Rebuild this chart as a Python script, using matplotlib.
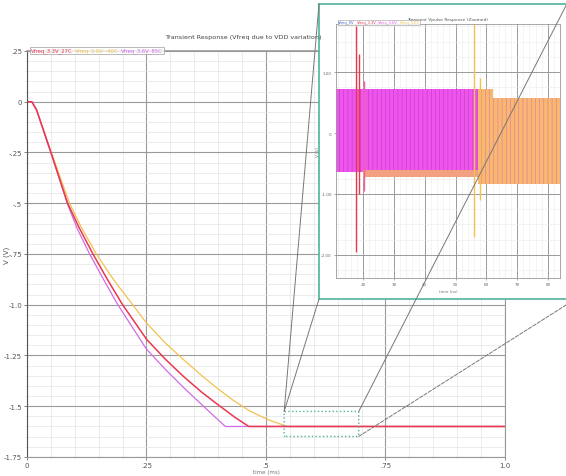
import numpy as np
import matplotlib
matplotlib.use("Agg")
import matplotlib.pyplot as plt
from matplotlib.patches import FancyBboxPatch, ConnectionPatch
from matplotlib.ticker import MultipleLocator

# main transient curves (time, V)
red_t = [0, 0.01, 0.02, 0.05, 0.085, 0.11, 0.138, 0.168, 0.2, 0.25, 0.29, 0.328, 0.365, 0.398, 0.435, 0.464, 1.0]
red_v = [0, 0, -0.04, -0.25, -0.5, -0.625, -0.75, -0.875, -1.0, -1.17, -1.27, -1.355, -1.43, -1.49, -1.555, -1.6, -1.6]
purple_t = [0, 0.01, 0.02, 0.05, 0.084, 0.105, 0.131, 0.16, 0.19, 0.25, 0.29, 0.328, 0.384, 0.415, 1.0]
purple_v = [0, 0, -0.04, -0.25, -0.5, -0.625, -0.75, -0.875, -1.0, -1.219, -1.32, -1.409, -1.533, -1.6, -1.6]
yellow_t = [0, 0.01, 0.02, 0.051, 0.089, 0.115, 0.145, 0.182, 0.221, 0.25, 0.29, 0.328, 0.365, 0.398, 0.432, 0.467, 0.505, 0.544, 1.0]
yellow_v = [0, 0, -0.04, -0.25, -0.5, -0.625, -0.75, -0.88, -1.0, -1.09, -1.19, -1.272, -1.348, -1.412, -1.472, -1.525, -1.567, -1.6, -1.6]
main_labels = ["Vfreq_3.3V_27C", "Vfreq_3.0V_-40C", "Vfreq_3.6V_85C"]

y_ticks = [0.25, 0, -0.25, -0.5, -0.75, -1.0, -1.25, -1.5, -1.75]
y_ticklabels = [".25", "0", "-.25", "-.5", "-.75", "-1.0", "-1.25", "-1.5", "-1.75"]
x_ticks = [0, 0.25, 0.5, 0.75, 1.0]
x_ticklabels = ["0", ".25", ".5", ".75", "1.0"]

# zoom window on main plot
zoom_t = [0.538, 0.694]
zoom_v = [-1.649, -1.526]

# inset (zoomed) signal envelopes
inset_labels = ["Vfreq_0V", "Vfreq_3.3V", "Vfreq_3.6V", "Vfreq_3.0V"]
mag_t = [11.2, 57.3]
mag_hi = [0.72, 0.72]
mag_lo = [-0.64, -0.64]
redstrip_t = [20.0, 57.3]
redstrip_hi = [-0.6, -0.6]
redstrip_lo = [-0.72, -0.72]
orng_t = [57.3, 62.0, 62.0, 83.9]
orng_hi = [0.72, 0.72, 0.57, 0.57]
orng_lo = [-0.84, -0.84, -0.84, -0.84]
spike_t = [17.6, 18.6, 20.2, 56.0, 57.9]
spike_hi = [1.75, 1.3, 0.85, 1.79, 0.9]
spike_lo = [-1.95, -1.0, -0.95, -1.7, -1.1]
spike_col = ["#e8384f", "#e8384f", "#f0609a", "#f2c14e", "#f2c14e"]
inset_xticks = [20, 30, 40, 50, 60, 70, 80]
inset_yticks = [1, 0, -1, -2]
inset_yticklabels = ["1.00", "0", "-1.00", "-2.00"]

RED = "#e8384f"
YEL = "#f2c14e"
PUR = "#d26be6"
TEAL = "#4fb39a"

plt.rcParams["hatch.linewidth"] = 0.4

fig = plt.figure(figsize=(5.66, 4.77), dpi=100)
fig.patch.set_facecolor("white")

ax = fig.add_axes([0.0477, 0.040, 0.8445, 0.851])
ax.plot(yellow_t, yellow_v, color=YEL, lw=0.9, label=main_labels[1])
ax.plot(purple_t, purple_v, color=PUR, lw=0.9, label=main_labels[2])
ax.plot(red_t, red_v, color=RED, lw=1.1, label=main_labels[0])
ax.set_xlim(0, 1.0)
ax.set_ylim(-1.75, 0.25)
ax.set_xticks(x_ticks)
ax.set_xticklabels(x_ticklabels)
ax.set_yticks(y_ticks)
ax.set_yticklabels(y_ticklabels)
ax.xaxis.set_minor_locator(MultipleLocator(0.05))
ax.yaxis.set_minor_locator(MultipleLocator(0.05))
ax.grid(which="major", color="#9a9a9a", lw=0.8)
ax.grid(which="minor", color="#e4e4e4", lw=0.5)
ax.set_axisbelow(True)
ax.tick_params(labelsize=5, colors="#555555", length=2, width=0.5, pad=1.5)
ax.tick_params(which="minor", length=1, width=0.4, colors="#777777")
for s in ["top", "right", "bottom"]:
    ax.spines[s].set_color("#999999")
ax.spines["left"].set_color("#555555")
ax.spines["top"].set_linewidth(1.2)
ax.set_ylabel("V (V)", fontsize=5, color="#555555")
ax.yaxis.set_label_coords(-0.036, 0.5)
ax.set_xlabel("time (ms)", fontsize=4, color="#777777", labelpad=1)
fig.text(322 / 566, 1 - 37 / 477, "Transient Response (Vfreq due to VDD variation)",
         fontsize=4.6, color="#444444", ha="right", va="center")

h, l = ax.get_legend_handles_labels()
order = [2, 0, 1]
leg = ax.legend([h[i] for i in order], [l[i] for i in order], loc="lower left",
                bbox_to_anchor=(0.0, 0.985), ncol=3, fontsize=3.8, handlelength=0,
                handletextpad=0, columnspacing=0.5, borderpad=0.2,
                frameon=True, fancybox=False, edgecolor="#999999",
                labelcolor=[RED, YEL, PUR])
leg.get_frame().set_linewidth(0.6)

box = FancyBboxPatch((zoom_t[0], zoom_v[0]), zoom_t[1] - zoom_t[0], zoom_v[1] - zoom_v[0],
                     boxstyle="round,pad=0,rounding_size=0.004", fill=False,
                     edgecolor=TEAL, lw=1.0, ls=":", zorder=5)
ax.add_patch(box)

# inset frame and inset axes
frame = fig.add_axes([0.5636, 0.371, 0.44, 0.6185])
frame.set_xticks([])
frame.set_yticks([])
for s in frame.spines.values():
    s.set_color(TEAL)
    s.set_linewidth(1.2)
frame.set_zorder(3)

ins = fig.add_axes([0.5936, 0.415, 0.3958, 0.5326])
ins.set_zorder(4)
ins.fill_between(mag_t, mag_lo, mag_hi, facecolor="#ee55ee", edgecolor="#c838b8",
                 hatch="||||", lw=0)
ins.fill_between(redstrip_t, redstrip_lo, redstrip_hi, facecolor="#f3a080", lw=0)
ins.fill_between(orng_t, orng_lo, orng_hi, facecolor="#f7b870", edgecolor="#ec70a8",
                 hatch="||||", lw=0)
ins.vlines(spike_t, spike_lo, spike_hi, colors=spike_col, lw=1.0)
ins.plot([], [], color="#4060d0", label=inset_labels[0])
ins.plot([], [], color=RED, label=inset_labels[1])
ins.plot([], [], color="#ee55ee", label=inset_labels[2])
ins.plot([], [], color=YEL, label=inset_labels[3])
ins.set_xlim(11.2, 83.9)
ins.set_ylim(-2.38, 1.79)
ins.set_xticks(inset_xticks)
ins.set_yticks(inset_yticks)
ins.set_yticklabels(inset_yticklabels)
ins.xaxis.set_minor_locator(MultipleLocator(2))
ins.yaxis.set_minor_locator(MultipleLocator(0.25))
ins.grid(which="major", color="#9a9a9a", lw=0.7)
ins.grid(which="minor", color="#ececec", lw=0.4)
ins.set_axisbelow(True)
ins.tick_params(labelsize=3, colors="#666666", length=1.5, width=0.4, pad=1.5)
ins.tick_params(which="minor", length=0)
for s in ins.spines.values():
    s.set_color("#999999")
    s.set_linewidth(0.6)
ins.set_xlabel("time (ns)", fontsize=3, color="#777777", labelpad=2)
ins.set_ylabel("V (V)", fontsize=3, color="#777777", labelpad=1)
ins.set_title("Transient Vpulse Response (Zoomed)", fontsize=3.2, color="#555555", pad=3)
ileg = ins.legend(loc="lower left", bbox_to_anchor=(0.0, 0.99), ncol=4, fontsize=2.6,
                  handlelength=0, handletextpad=0, columnspacing=0.5, borderpad=0.15,
                  frameon=True, fancybox=False, edgecolor="#999999",
                  labelcolor=["#4060d0", RED, "#ee55ee", YEL])
ileg.get_frame().set_linewidth(0.5)

# connector lines from zoom window to the inset frame
conns = [((zoom_t[0], zoom_v[1]), (0.0, 1.0), "-"),
         ((zoom_t[0], zoom_v[1]), (0.0, 0.0), "-"),
         ((zoom_t[1], zoom_v[1]), (0.995, 1.0), "-"),
         ((zoom_t[1], zoom_v[0]), (1.03, 0.0), "--")]
for pa, pb, ls in conns:
    cp = ConnectionPatch(xyA=pa, coordsA=ax.transData, xyB=pb, coordsB=frame.transAxes,
                         color="#777777", lw=0.7, ls=ls)
    cp.set_zorder(6)
    fig.add_artist(cp)

fig.savefig("out.png", dpi=100)
